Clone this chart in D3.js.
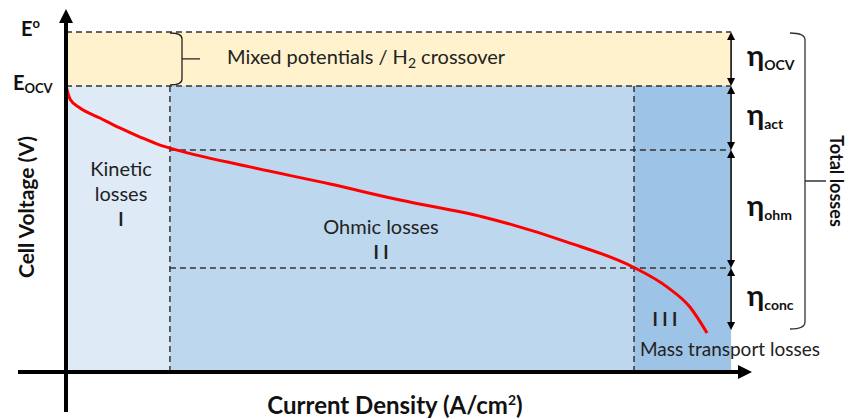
<!DOCTYPE html>
<html lang="en">
<head>
  <meta charset="UTF-8">
  <title>Polarization curve</title>
  <style>
    body { margin: 0; background: #fff; }
    svg { display: block; font-family: Lato, 'Open Sans', sans-serif; }
  </style>
</head>
<body>
  <div id="chart"></div>
  <script src="https://cdn.jsdelivr.net/npm/d3@7/dist/d3.min.js"></script>
  <script>
    // polarization curve (A/cm2, V)
    var currentDensity = [0, 0.012, 0.041, 0.099, 0.157, 0.216, 0.274, 0.303, 0.536, 0.770, 0.974, 1.216, 1.461, 1.653, 1.752, 1.819, 1.869];
    var cellVoltage = [1.035, 0.987, 0.955, 0.919, 0.883, 0.850, 0.821, 0.810, 0.742, 0.680, 0.622, 0.561, 0.470, 0.380, 0.308, 0.235, 0.141];

    // voltage levels: E0, Eocv, end of activation, end of ohmic, end of concentration
    var levelNames = ['E0', 'Eocv', 'act', 'ohm', 'conc'];
    var levelValues = [1.23, 1.035, 0.803, 0.376, 0.152];
    var lossLabels = ['OCV', 'act', 'ohm', 'conc'];

    // current density limits of the three regions
    var regionBounds = [0, 0.303, 1.656, 1.939];
    var regionColors = ['#deebf7', '#bdd7ee', '#9dc3e6'];

    var width = 849;
    var height = 419;
    var x = d3.scaleLinear().domain([0, 2]).range([66, 752]);
    var y = d3.scaleLinear().domain([0, 1.23]).range([372, 32]);

    var svg = d3.select('#chart').append('svg')
      .attr('width', width)
      .attr('height', height);

    var xEnd = x(regionBounds[3]);

    // bands
    svg.append('rect')
      .attr('x', x(0)).attr('y', y(levelValues[0]))
      .attr('width', xEnd - x(0)).attr('height', y(levelValues[1]) - y(levelValues[0]))
      .attr('fill', '#fff2cc');

    svg.append('g').selectAll('rect')
      .data(regionColors)
      .enter().append('rect')
      .attr('x', function(d, i) { return x(regionBounds[i]); })
      .attr('y', y(levelValues[1]))
      .attr('width', function(d, i) { return x(regionBounds[i + 1]) - x(regionBounds[i]); })
      .attr('height', y(0) - y(levelValues[1]))
      .attr('fill', function(d) { return d; });

    // dashed guide lines
    var dashed = svg.append('g')
      .attr('stroke', '#333')
      .attr('stroke-width', 1.5)
      .attr('stroke-dasharray', '6,4');
    dashed.selectAll('line.h')
      .data(levelValues.slice(0, 4))
      .enter().append('line')
      .attr('x1', function(d, i) { return i < 2 ? x(0) : x(regionBounds[1]); })
      .attr('x2', xEnd)
      .attr('y1', function(d) { return y(d); })
      .attr('y2', function(d) { return y(d); });
    dashed.selectAll('line.v')
      .data(regionBounds.slice(1, 3))
      .enter().append('line')
      .attr('x1', function(d) { return x(d); })
      .attr('x2', function(d) { return x(d); })
      .attr('y1', y(levelValues[1]))
      .attr('y2', y(0));

    // polarization curve
    var line = d3.line()
      .x(function(d) { return x(d[0]); })
      .y(function(d) { return y(d[1]); })
      .curve(d3.curveMonotoneX);
    svg.append('path')
      .datum(d3.zip(currentDensity, cellVoltage))
      .attr('fill', 'none')
      .attr('stroke', '#ff0000')
      .attr('stroke-width', 3)
      .attr('d', line);

    // axes with arrow heads
    var axes = svg.append('g');
    axes.append('line')
      .attr('x1', x(0)).attr('x2', x(0))
      .attr('y1', y(0) + 40).attr('y2', 22)
      .attr('stroke', '#000').attr('stroke-width', 4);
    axes.append('path')
      .attr('d', 'M' + (x(0) - 7) + ',23L' + x(0) + ',9L' + (x(0) + 7) + ',23Z');
    axes.append('line')
      .attr('x1', 18).attr('x2', x(2) - 13)
      .attr('y1', y(0)).attr('y2', y(0))
      .attr('stroke', '#000').attr('stroke-width', 4);
    axes.append('path')
      .attr('d', 'M' + (x(2) - 14) + ',' + (y(0) - 7) + 'L' + x(2) + ',' + y(0) + 'L' + (x(2) - 14) + ',' + (y(0) + 7) + 'Z');

    // double arrows for each loss
    var arrows = svg.append('g');
    lossLabels.forEach(function(name, i) {
      var y1 = y(levelValues[i]);
      var y2 = y(levelValues[i + 1]);
      arrows.append('line')
        .attr('x1', xEnd).attr('x2', xEnd)
        .attr('y1', y1 + 3).attr('y2', y2 - 3)
        .attr('stroke', '#000').attr('stroke-width', 1.5);
      arrows.append('path')
        .attr('d', 'M' + (xEnd - 4) + ',' + (y1 + 8) + 'L' + xEnd + ',' + y1 + 'L' + (xEnd + 4) + ',' + (y1 + 8) + 'Z');
      arrows.append('path')
        .attr('d', 'M' + (xEnd - 4) + ',' + (y2 - 8) + 'L' + xEnd + ',' + y2 + 'L' + (xEnd + 4) + ',' + (y2 - 8) + 'Z');

      var t = arrows.append('text')
        .attr('x', xEnd + 16)
        .attr('y', (y1 + y2) / 2 + 7)
        .attr('font-weight', 'bold')
        .attr('fill', '#111');
      t.append('tspan').attr('font-size', 29).text('η');
      t.append('tspan').attr('font-size', 14).attr('dy', 4).text(name);
    });

    // brackets
    var yTop = y(levelValues[0]);
    var yEo = y(levelValues[1]);
    var yBot = y(levelValues[4]);
    svg.append('path')
      .attr('fill', 'none').attr('stroke', '#222').attr('stroke-width', 1.3)
      .attr('d', 'M170,' + (yTop + 1) + 'Q182,' + (yTop + 1) + ' 182,' + (yTop + 7) +
        'L182,' + (yEo - 7) + 'Q182,' + (yEo - 1) + ' 170,' + (yEo - 1) +
        'M182,' + ((yTop + yEo) / 2) + 'L200,' + ((yTop + yEo) / 2));
    var yMid = (yTop + yBot) / 2;
    svg.append('path')
      .attr('fill', 'none').attr('stroke', '#333').attr('stroke-width', 1.3)
      .attr('d', 'M790,' + (yTop + 1) + 'Q805,' + (yTop + 1) + ' 805,' + (yTop + 8) +
        'L805,' + (yBot - 8) + 'Q805,' + (yBot - 1) + ' 790,' + (yBot - 1) +
        'M805,' + yMid + 'L826,' + yMid);

    // text labels
    var labels = svg.append('g').attr('fill', '#222').attr('font-size', 20).attr('text-anchor', 'middle');
    var mixed = labels.append('text').attr('x', 227).attr('y', 64).attr('text-anchor', 'start');
    mixed.append('tspan').text('Mixed potentials / H');
    mixed.append('tspan').attr('font-size', 14).attr('dy', 4).text('2');
    mixed.append('tspan').attr('dy', -4).text(' crossover');

    var regionTexts = [['Kinetic', 'losses', 'I'], ['Ohmic losses', 'I I'], ['I I I']];
    var regionTextX = [121, 381, 665];
    var regionTextY = [176, 234, 326];
    regionTexts.forEach(function(lines, i) {
      lines.forEach(function(s, k) {
        var isRoman = /^I( I)*$/.test(s);
        labels.append('text')
          .attr('x', regionTextX[i])
          .attr('y', regionTextY[i] + k * 25)
          .attr('font-weight', isRoman ? 'bold' : 'normal')
          .attr('font-size', isRoman ? 18 : 20)
          .text(s);
      });
    });
    labels.append('text').attr('x', 640).attr('y', 356).attr('text-anchor', 'start').attr('font-size', 19)
      .text('Mass transport losses');

    // axis titles and level names
    var bold = svg.append('g').attr('font-weight', 'bold').attr('fill', '#111');
    bold.append('text')
      .attr('transform', 'translate(34,207) rotate(-90)')
      .attr('text-anchor', 'middle').attr('font-size', 21)
      .text('Cell Voltage (V)');
    var xt = bold.append('text').attr('x', 395).attr('y', 414).attr('text-anchor', 'middle').attr('font-size', 24);
    xt.append('tspan').text('Current Density (A/cm');
    xt.append('tspan').attr('font-size', 14).attr('dy', -9).text('2');
    xt.append('tspan').attr('dy', 9).text(')');
    bold.append('text')
      .attr('transform', 'translate(830,' + yMid + ') rotate(90)')
      .attr('text-anchor', 'middle').attr('font-size', 18)
      .text('Total losses');

    var e0 = bold.append('text').attr('x', 21).attr('y', yTop + 4).attr('font-size', 20);
    e0.append('tspan').text('E');
    e0.append('tspan').attr('font-size', 13).attr('dy', -8).text('o');
    var eocv = bold.append('text').attr('x', 13).attr('y', yEo + 4).attr('font-size', 20);
    eocv.append('tspan').text('E');
    eocv.append('tspan').attr('font-size', 13).attr('dy', 3).text('OCV');
  </script>
</body>
</html>
